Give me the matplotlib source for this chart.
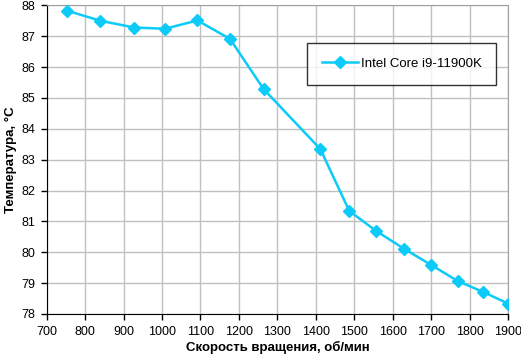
import matplotlib
matplotlib.use("Agg")
import matplotlib.pyplot as plt

rpm = [752, 839, 928, 1008, 1092, 1177, 1264, 1412, 1487, 1557, 1630, 1700, 1769, 1836, 1900]
temp = [87.83, 87.50, 87.28, 87.24, 87.51, 86.91, 85.29, 83.34, 81.34, 80.69, 80.11, 79.59, 79.07, 78.71, 78.34]
series_name = "Intel Core i9-11900K"
xticks = list(range(700, 2000, 100))
yticks = list(range(78, 89))

plt.rcParams['font.family'] = ['Liberation Sans', 'DejaVu Sans']

fig = plt.figure(figsize=(5.21, 3.55), dpi=100)
ax = fig.add_axes([46.7/521, 1 - 314/355, (508 - 46.7)/521, (314 - 5.3)/355])

color = '#0CCBF8'
ax.plot(rpm, temp, color=color, lw=1.8, marker='D', ms=6, mfc=color, mec=color,
        label=series_name, zorder=3)

ax.set_xlim(700, 1900)
ax.set_ylim(78, 88)
ax.set_xticks(xticks)
ax.set_yticks(yticks)
ax.grid(True, color='#C0C0C0', lw=1)
ax.set_axisbelow(True)
ax.tick_params(labelsize=9, length=4, width=1, color='black', direction='out', pad=4.5)
for s in ['top', 'right']:
    ax.spines[s].set_color('#A0A0A0')
for s in ['left', 'bottom']:
    ax.spines[s].set_color('black')

ax.set_xlabel('Скорость вращения, об/мин', fontsize=9.5, fontweight='bold', labelpad=2)
ax.set_ylabel('Температура, °C', fontsize=9.5, fontweight='bold', labelpad=3)

leg = ax.legend(loc='upper left', bbox_to_anchor=((307-46.7)/461.3, 1 - (43.3-5.3)/308.7),
                frameon=True, fancybox=False, edgecolor='black', fontsize=9.5,
                borderpad=1.1, handlelength=2.8, handletextpad=0.2, borderaxespad=0)
leg.get_frame().set_linewidth(1)

fig.savefig('out.png', dpi=100)
